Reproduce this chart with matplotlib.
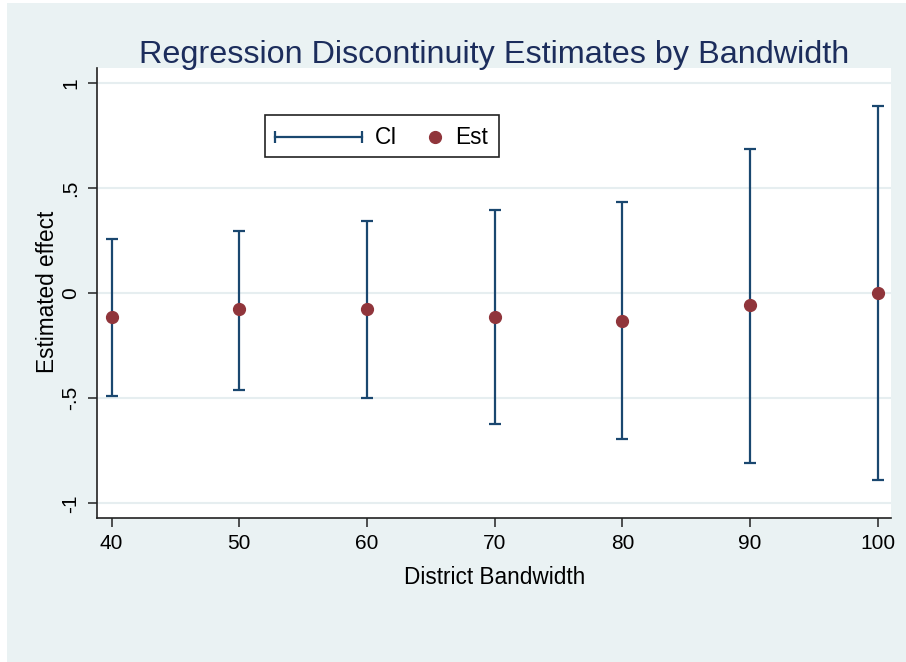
import matplotlib
matplotlib.use("Agg")
import matplotlib.pyplot as plt
from matplotlib.patches import Rectangle
from matplotlib.lines import Line2D

plt.rcParams['font.family'] = ['Liberation Sans', 'DejaVu Sans']

bandwidth = [40, 50, 60, 70, 80, 90, 100]
estimate = [-0.114, -0.076, -0.076, -0.113, -0.132, -0.057, -0.002]
ci_upper = [0.257, 0.297, 0.341, 0.395, 0.431, 0.686, 0.887]
ci_lower = [-0.488, -0.460, -0.497, -0.624, -0.695, -0.807, -0.890]
y_ticks = [-1, -0.5, 0, 0.5, 1]
y_ticklabels = ['-1', '-.5', '0', '.5', '1']
legend_labels = ['CI', 'Est']

NAVY = '#1a476f'
MAROON = '#90353b'
BG = '#eaf2f3'
GRID = '#e6eef0'

W, H = 906, 662
fig = plt.figure(figsize=(W / 100, H / 100), dpi=100, facecolor='white')
fig.patches.append(Rectangle((7 / W, 0), 1, 1 - 3 / H, transform=fig.transFigure,
                             facecolor=BG, edgecolor='none', zorder=-10))

left, right, top, bottom = 97.4, 891, 68, 517.7
ax = fig.add_axes([left / W, 1 - bottom / H, (right - left) / W, (bottom - top) / H])
ax.set_facecolor('white')

# error bars
yerr = [[e - l for e, l in zip(estimate, ci_lower)],
        [u - e for e, u in zip(estimate, ci_upper)]]
ax.errorbar(bandwidth, estimate, yerr=yerr, fmt='none', ecolor=NAVY,
            elinewidth=1.6, capsize=4, capthick=1.6, zorder=3)
ax.plot(bandwidth, estimate, 'o', color=MAROON, ms=8.5, zorder=4, linestyle='none')

ax.set_xlim(38.89, 101.04)
ax.set_ylim(-1.068, 1.07)
ax.set_xticks(bandwidth)
ax.set_xticklabels([str(b) for b in bandwidth])
ax.set_yticks(y_ticks)
ax.set_yticklabels(y_ticklabels, rotation=90, va='center')

for s in ['top', 'right']:
    ax.spines[s].set_visible(False)
for s in ['left', 'bottom']:
    ax.spines[s].set_linewidth(1.2)
    ax.spines[s].set_color('#222222')

ax.tick_params(axis='both', length=6.5, width=1.1, color='#222222', labelsize=15,
               labelcolor='black')
ax.tick_params(axis='x', pad=5.5)
ax.tick_params(axis='y', pad=6)

ax.grid(axis='y', color=GRID, linewidth=1.5, zorder=0)
ax.set_axisbelow(True)

ax.set_xlabel('District Bandwidth', fontsize=16.3, labelpad=9)
ax.set_ylabel('Estimated effect', fontsize=16.3)
ax.yaxis.set_label_coords((44 - left) / (right - left), 0.5)
ax.yaxis.label.set_transform(fig.transFigure)
ax.yaxis.label.set_position((47.5 / W, 1 - 291.5 / H))
ax.yaxis.label.set_va('center')

fig.text((left + right) / 2 / W, 1 - 63 / H, 'Regression Discontinuity Estimates by Bandwidth',
         ha='center', va='baseline', fontsize=23.3, color='#1c2d5c')

# legend (drawn as a framed key box)
def fx(px):
    return px / W


def fy(py):
    return 1 - py / H


frame = Rectangle((fx(265), fy(157)), fx(499) - fx(265), fy(115) - fy(157),
                  transform=fig.transFigure, facecolor='white', edgecolor='#222222',
                  linewidth=1.2, zorder=5)
fig.add_artist(frame)
ly = fy(137)
fig.add_artist(Line2D([fx(275), fx(362)], [ly, ly], transform=fig.transFigure,
                      color=NAVY, lw=1.6, zorder=6))
fig.add_artist(Line2D([fx(275), fx(362)], [ly, ly], transform=fig.transFigure,
                      ls='none', marker='|', ms=9, mew=1.6, color=NAVY, zorder=6))
fig.text(fx(375), ly, legend_labels[0], fontsize=16.3, va='center', ha='left', zorder=6)
fig.add_artist(Line2D([fx(435)], [ly], transform=fig.transFigure, ls='none',
                      marker='o', ms=8.5, color=MAROON, zorder=6))
fig.text(fx(455), ly, legend_labels[1], fontsize=16.3, va='center', ha='left', zorder=6)

fig.savefig('out.png', dpi=100, facecolor=fig.get_facecolor())
